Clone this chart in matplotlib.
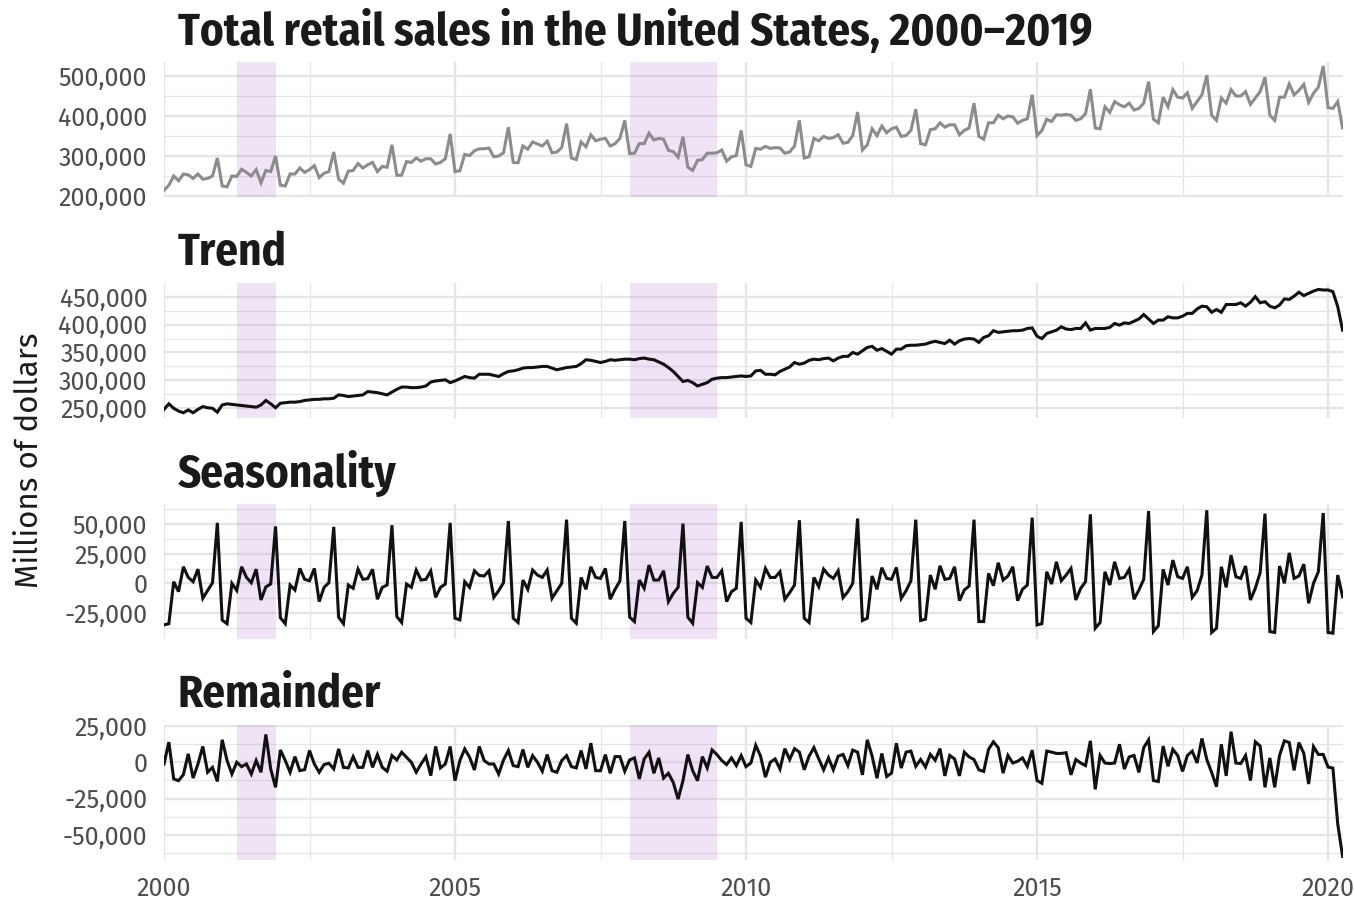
import matplotlib
matplotlib.use("Agg")
import matplotlib.pyplot as plt
from matplotlib.ticker import MultipleLocator, FuncFormatter
import numpy as np
import pandas as pd

# monthly values, thousands of millions of dollars, Jan 2000 - Apr 2020
sales = [
    214, 227, 250, 238, 255, 253, 244, 255, 242, 244, 250, 295,
    225, 223, 250, 249, 267, 259, 250, 266, 233, 264, 261, 300,
    227, 225, 255, 255, 270, 259, 266, 276, 246, 257, 261, 310,
    242, 232, 262, 264, 281, 270, 278, 284, 261, 274, 272, 328,
    252, 252, 286, 284, 295, 287, 293, 293, 280, 284, 293, 355,
    261, 263, 304, 301, 313, 318, 318, 320, 298, 300, 308, 372,
    284, 283, 325, 317, 335, 330, 325, 337, 308, 310, 321, 381,
    295, 291, 335, 323, 353, 338, 342, 344, 325, 331, 344, 389,
    306, 307, 331, 331, 357, 340, 344, 342, 314, 311, 297, 348,
    272, 264, 289, 291, 307, 307, 308, 315, 287, 298, 301, 364,
    278, 274, 319, 317, 324, 319, 321, 320, 307, 310, 325, 389,
    295, 298, 344, 338, 349, 344, 346, 353, 332, 334, 351, 410,
    315, 328, 368, 351, 375, 358, 368, 372, 349, 351, 364, 417,
    331, 328, 366, 368, 383, 372, 378, 378, 353, 364, 370, 432,
    349, 342, 383, 383, 402, 393, 400, 398, 382, 389, 393, 453,
    351, 364, 392, 386, 403, 402, 404, 402, 389, 393, 406, 467,
    370, 368, 423, 409, 436, 428, 423, 432, 415, 419, 432, 486,
    392, 383, 447, 423, 466, 447, 445, 458, 419, 436, 453, 502,
    402, 389, 445, 432, 466, 450, 450, 461, 429, 445, 461, 497,
    402, 389, 447, 447, 480, 453, 464, 479, 434, 457, 472, 525,
    421, 419, 436, 370,
]

trend = [
    248, 258, 250, 245, 242, 247, 242, 248, 253, 251, 250, 243,
    256, 258, 257, 256, 255, 254, 253, 252, 256, 264, 258, 251,
    259, 260, 261, 261, 262, 264, 265, 266, 266, 267, 267, 268,
    274, 273, 271, 272, 273, 274, 280, 279, 278, 276, 274, 279,
    284, 288, 288, 287, 287, 288, 290, 297, 299, 300, 301, 296,
    299, 303, 307, 305, 304, 311, 311, 311, 309, 307, 312, 316,
    317, 319, 322, 323, 323, 324, 325, 325, 322, 319, 321, 323,
    324, 325, 330, 337, 336, 334, 332, 334, 337, 336, 337, 338,
    338, 337, 339, 340, 338, 337, 333, 329, 323, 316, 307, 298,
    300, 296, 290, 293, 296, 302, 304, 305, 305, 306, 307, 308,
    307, 308, 317, 318, 311, 311, 310, 316, 320, 324, 332, 329,
    331, 336, 338, 337, 339, 340, 335, 340, 343, 343, 350, 347,
    353, 359, 361, 354, 357, 352, 347, 356, 356, 362, 363, 363,
    364, 365, 368, 370, 368, 366, 372, 365, 371, 374, 375, 374,
    368, 377, 380, 389, 386, 387, 388, 389, 389, 390, 393, 394,
    379, 375, 384, 387, 390, 396, 392, 391, 393, 393, 403, 390,
    393, 393, 393, 395, 402, 399, 403, 402, 406, 410, 418, 410,
    402, 408, 408, 414, 412, 412, 415, 420, 420, 428, 433, 432,
    422, 427, 422, 436, 436, 436, 439, 433, 440, 450, 439, 441,
    433, 430, 435, 446, 445, 451, 458, 452, 456, 460, 463, 462,
    462, 459, 432, 390,
]

seasonal = [
    -35, -34, 1.4, -7, 14, 5, 1.4, 12, -12.6, -6, 0.5, 51,
    -31, -34, 0, -6, 14, 5, 0.5, 12, -14, -3, -0.5, 48,
    -29, -34, -1.4, -5.6, 12.6, 3.4, 2.2, 12.6, -15.4, -3.4, 0.6, 47.6,
    -28.5, -34, -1.4, -4.2, 12, 3.4, 4, 11.8, -13.4, -3.4, -1.4, 49,
    -28, -33, -0.6, -3.4, 11.2, 2.8, 3.4, 10.4, -11.8, -3.4, -0.6, 51,
    -29.4, -30.8, 1.4, -3.4, 10.6, 6.7, 6.2, 10.6, -11.8, -6.2, 0.6, 52.6,
    -29.4, -33, 2.8, -5, 11.2, 7, 5, 11.2, -12.6, -6.2, 0, 53.7,
    -29.4, -33.6, 5, -5, 14, 5, 4.2, 12.6, -13.4, -5, 2, 52.6,
    -28.5, -32.2, 2.8, -4.2, 15.4, 2.8, 2.8, 10.6, -15.4, -8.4, -3.4, 50.4,
    -28.5, -33.6, 0.6, -3.4, 14.6, 5, 5, 10.6, -15.4, -7, -4.2, 51.8,
    -29.4, -33, 2.8, -3.4, 12.6, 5, 5, 9.8, -13.4, -7.8, -1.4, 53.2,
    -29.4, -33, 5, -2.8, 12, 7, 4.2, 10.6, -12, -7, 0, 54.6,
    -31.3, -29.4, 6.2, -5, 13.2, 4.2, 3.4, 13.4, -12.6, -6.2, 2.2, 53.7,
    -31.3, -30.2, 7, -5, 14.8, 3.4, 4.2, 14, -14.6, -5.6, -2.2, 53.7,
    -32.2, -32.2, 8.4, -2, 17.4, 2.8, 6.2, 14, -14.6, -5, -1.4, 55.4,
    -35, -34, 9.8, -0.6, 18.2, 2.2, 7, 12.6, -14, -4.2, 1.4, 58.2,
    -37.8, -33, 9.8, -1.4, 18.2, 4.2, 5, 11.8, -13.4, -5.6, 3.4, 61,
    -40.6, -35.8, 11.8, -1.4, 19.6, 5.6, 4.2, 14, -11.8, -6.2, 7, 61.6,
    -41.4, -37.8, 14, -3.4, 23.8, 5.6, 4.2, 14.6, -14, -4.2, 9, 58.8,
    -40.6, -41.4, 14.6, 0, 25.7, 4.2, 6.2, 16.2, -16.8, 0, 9.8, 59.3,
    -41.4, -42, 7, -11.2,
]

remainder = [
    -1.2, 13.9, -11.5, -12.7, -8.5, 5.8, -10.9, -1.2, 10.9, -6.9, -3.5, -13.2,
    15.5, 1.2, -8.1, 0, -3.0, -1.2, -8.1, 1.2, -6.9, 19.2, -4.6, -17.3,
    8.5, 1.2, -6.9, 3.9, -5.8, -5.1, 8.1, -1.2, -6.9, -1.6, -0.7, -4.6,
    9.2, -3.5, -3.9, 3.9, -3.5, -3.5, 8.1, -3.5, 5.3, -3.5, -6.2, 4.6,
    1.6, 6.9, 3.5, 0, -6.9, -1.2, 3.9, -9.2, 10.9, -3.9, -1.2, 10.9,
    -12.7, 1.2, 9.2, 3.5, -5.3, 10.9, 1.2, -1.2, -1.2, -8.1, 1.6, 8.1,
    -2.3, -3.0, 8.8, -3.5, 4.6, 0, -6.2, 5.3, -5.8, -6.9, 1.2, 4.6,
    -3.0, -3.9, 8.1, -4.6, 13.2, -5.8, -5.8, 5.3, -7.6, 3.9, 3.9, -6.2,
    1.6, 3.0, -11.5, 2.3, 6.9, -7.6, 3.0, -10.9, -7.6, -13.9, -25.4, -12.7,
    5.3, -5.8, -12.7, 3.9, -3.9, 8.5, 5.3, 1.2, -1.6, 3.0, -2.3, 4.6,
    -3, -0.5, 11.7, 4.2, -10.3, 0, 2.3, -4.7, 9.4, 1.9, 9.4, 7.0,
    -5.2, 4.2, 10.1, 2.3, -5.2, 3.0, -5.2, 4.2, 5.4, -2.3, 8.4, 7.0,
    -8.7, 15.5, 4.2, -11.0, 6.1, -9.8, -7.5, 13.1, -4.0, 7.0, 7.7, -2.8,
    1.9, -3.3, 5.4, 1.4, 9.4, -9.4, 4.7, 2.3, -9.4, 7.0, 3.7, 1.9,
    -5.2, -6.3, 8.9, 14.1, 10.1, -7.5, 4.7, -0.5, 0.7, 3.0, -2.8, 8.4,
    -12.6, -14.5, 7.7, 7.0, 6.1, 6.1, 6.6, -8.7, 1.9, -0.5, -2.3, 14.8,
    -18.7, 4.7, -0.5, -0.9, -0.5, 12.4, -4.7, 3.7, 4.7, -7.0, 10.1, 15.5,
    -12.6, -13.3, 11.2, -2.8, 8.9, 4.7, -6.3, 4.7, 7.7, -0.5, 16.4, 1.9,
    -7.0, -16.9, 12.4, -9.4, 21.1, -0.5, -0.9, 4.7, -12.6, 14.1, 11.2, -17.3,
    3.0, -17.3, 4.7, 14.8, 13.6, -5.6, 13.6, 6.1, -15.0, 10.8, 5.4, 5.4,
    -3.3, -4.0, -42.6, -64.9,
]

recessions = [("2001-04-01", "2001-12-01"), ("2008-01-01", "2009-07-01")]

panel_titles = ["Total retail sales in the United States, 2000\u20132019",
                "Trend", "Seasonality", "Remainder"]


def dec_year(d):
    d = pd.Timestamp(d)
    return d.year + (d.month - 1) / 12


dates = pd.date_range("2000-01-01", periods=len(sales), freq="MS")
x = np.array([dec_year(d) for d in dates])

TITLE_FONT = ["Fira Sans Condensed", "Open Sans Condensed", "DejaVu Sans"]
BODY_FONT = ["Fira Sans", "Liberation Sans", "DejaVu Sans"]

fig = plt.figure(figsize=(13.54, 9), dpi=100)
W, H = 1354, 900

# (values, color, ylim, major, minor)
panels = [
    (sales, "#8c8c8c", (197.5e3, 535e3), 100e3, 50e3),
    (trend, "#111111", (232.6e3, 474.5e3), 50e3, 25e3),
    (seasonal, "#111111", (-46.9e3, 66.9e3), 25e3, 12.5e3),
    (remainder, "#111111", (-67.4e3, 25.7e3), 25e3, 12.5e3),
]
tops = [62, 283, 504, 725]
panel_h = 135
title_base = [45, 265, 487, 707]

left_px, right_px = 164, 1342.6

for i, (vals, col, ylim, major, minor) in enumerate(panels):
    ax = fig.add_axes([left_px / W, 1 - (tops[i] + panel_h) / H,
                       (right_px - left_px) / W, panel_h / H])
    y = np.array(vals) * 1000
    for start, end in recessions:
        ax.axvspan(dec_year(start), dec_year(end), color="#b973d2", alpha=0.2,
                   lw=0, zorder=1.5)
    ax.plot(x, y, color=col, lw=2.2, zorder=3, solid_joinstyle="miter")
    ax.set_xlim(x[0], x[-1])
    ax.set_ylim(*ylim)
    ax.set_axisbelow(True)
    ax.xaxis.set_major_locator(MultipleLocator(5))
    ax.xaxis.set_minor_locator(MultipleLocator(2.5))
    ax.yaxis.set_major_locator(MultipleLocator(major))
    ax.yaxis.set_minor_locator(MultipleLocator(minor))
    ax.grid(which="major", color="#e6e6e6", lw=1.7)
    ax.grid(which="minor", color="#e6e6e6", lw=0.9)
    ax.yaxis.set_major_formatter(FuncFormatter(lambda v, p: f"{v:,.0f}"))
    ax.tick_params(which="both", length=0)
    ax.tick_params(axis="y", pad=12, labelsize=18, labelcolor="#4d4d4d")
    for lab in ax.get_yticklabels():
        lab.set_family(BODY_FONT)
    if i == 3:
        ax.xaxis.set_major_formatter(FuncFormatter(lambda v, p: f"{v:.0f}"))
        ax.tick_params(axis="x", pad=12, labelsize=18, labelcolor="#4d4d4d")
        for lab in ax.get_xticklabels():
            lab.set_family(BODY_FONT)
    else:
        ax.tick_params(axis="x", labelbottom=False)
    for s in ax.spines.values():
        s.set_visible(False)
    fig.text(178 / W, 1 - title_base[i] / H, panel_titles[i],
             family=TITLE_FONT, weight="bold", fontsize=32.3,
             color="#1a1a1a", va="baseline", ha="left")

fig.text(29 / W, 1 - 460.5 / H, "Millions of dollars", family=BODY_FONT,
         fontsize=22.5, rotation=90, va="center", ha="center", color="#1a1a1a")

fig.savefig("out.png", dpi=100)
